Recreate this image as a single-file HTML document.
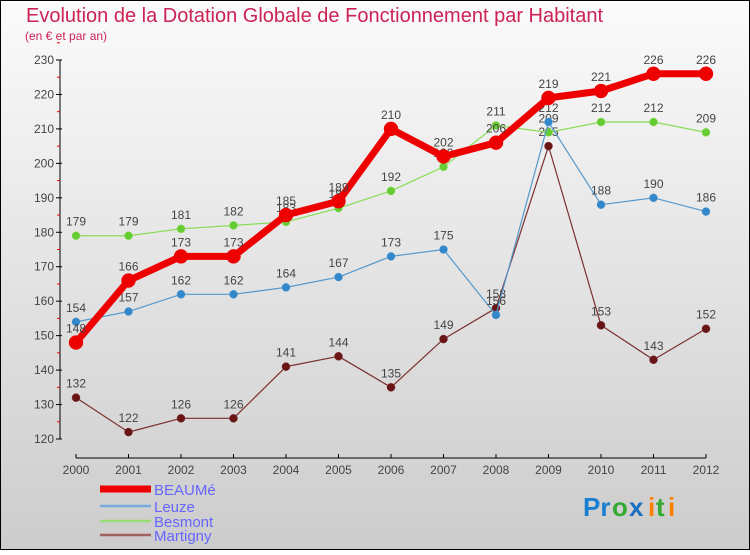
<!DOCTYPE html>
<html><head><meta charset="utf-8"><style>
html,body{margin:0;padding:0}
body{width:750px;height:550px;overflow:hidden;font-family:"Liberation Sans",sans-serif}
</style></head><body>
<svg id="chart" width="750" height="550" xmlns="http://www.w3.org/2000/svg" font-family="Liberation Sans, sans-serif">
<defs><linearGradient id="bg" x1="0" y1="0" x2="0" y2="1"><stop offset="0" stop-color="#fbfbfb"/><stop offset="1" stop-color="#cccccc"/></linearGradient></defs>
<rect x="0.5" y="0.5" width="749" height="549" fill="url(#bg)" stroke="#000"/>
<text x="26" y="22" font-size="20" fill="#cc2255">Evolution de la Dotation Globale de Fonctionnement par Habitant</text>
<text x="25" y="40" font-size="12" fill="#cc2255">(en € et par an)</text>
<g id="axes"></g><g id="series"></g><g id="legend"></g>
<g font-size="26" font-weight="bold">
<text x="583" y="516" fill="#1a7fd0">Pr</text><text x="612" y="516" fill="#33aa33">o</text><text x="629" y="516" fill="#1a6fc0">x</text><text x="648" y="516" fill="#ff7f00">i</text><text x="656" y="516" fill="#33aa33">t</text><text x="668" y="516" fill="#ff7f00">i</text>
</g>
</svg>
<script>
const years=[2000,2001,2002,2003,2004,2005,2006,2007,2008,2009,2010,2011,2012];
const beaume=[148,166,173,173,185,189,210,202,206,219,221,226,226];
const leuze=[154,157,162,162,164,167,173,175,156,212,188,190,186];
const besmont=[179,179,181,182,183,187,192,199,211,209,212,212,209];
const martigny=[132,122,126,126,141,144,135,149,158,205,153,143,152];
const yTicks=[120,130,140,150,160,170,180,190,200,210,220,230];
const NS="http://www.w3.org/2000/svg";
const X=i=>76+i*52.5;
const Y=v=>439-(v-120)*(379/110);
function mk(tag,attrs,parent){const e=document.createElementNS(NS,tag);for(const k in attrs)e.setAttribute(k,attrs[k]);parent.appendChild(e);return e;}
const axes=document.getElementById('axes');
let ya=mk('line',{x1:60,y1:Y(230),x2:60,y2:Y(120),stroke:'#000','stroke-width':1},axes);


yTicks.forEach(v=>{
 mk('line',{x1:56,x2:62,y1:Y(v),y2:Y(v),stroke:'#000'},axes);
 mk('line',{x1:57,x2:60,y1:Y(v+5),y2:Y(v+5),stroke:'#e00'},axes);
 const t=mk('text',{x:54,y:Y(v)+4,'text-anchor':'end','font-size':12,fill:'#444'},axes);t.textContent=v;
 
 
});
let xa=mk('line',{x1:X(0),y1:458,x2:X(12),y2:458,stroke:'#000'},axes);


years.forEach((yr,i)=>{
 mk('line',{x1:X(i),x2:X(i),y1:454,y2:458,stroke:'#000'},axes);
 const t=mk('text',{x:X(i),y:474,'text-anchor':'middle','font-size':12,fill:'#444'},axes);t.textContent=yr;
 
 
});
const ser=document.getElementById('series');
function draw(name,data,color,w,r,dot){
 const g=mk('g',{},ser);
 
 
 mk('polyline',{points:data.map((v,i)=>X(i)+','+Y(v)).join(' '),fill:'none',stroke:color,'stroke-width':w,'stroke-linejoin':'round'},g);
 data.forEach((v,i)=>{
  const c=mk('circle',{cx:X(i),cy:Y(v),r:r,fill:dot,stroke:color,'stroke-width':0.5},g);
  
  
  const t=mk('text',{x:X(i),y:Y(v)-10,'text-anchor':'middle','font-size':12,fill:'#444'},g);t.textContent=v;
  
  
 });
}
draw('martigny',martigny,'#7a3030',1.2,4,'#6a1515');
draw('besmont',besmont,'#88dd55',1.2,4,'#66cc33');
draw('leuze',leuze,'#5599cc',1.2,4,'#3388cc');
draw('beaume',beaume,'#ee0000',7,7,'#ee0000');
const lg=document.getElementById('legend');
const items=[['BEAUMé','#ee0000',7],['Leuze','#77aadd',2.5],['Besmont','#99dd77',2.5],['Martigny','#a06060',2.5]];
items.forEach((it,i)=>{
 const y=519+i*14.5-(i==0?0:0);
 const g=mk('g',{},lg);
 
 
 mk('line',{x1:100,x2:151,y1:[519,536,551,565][i]-30+ (i==0?0:0),y2:[519,536,551,565][i]-30,stroke:it[1],'stroke-width':it[2]},g);
 const t=mk('text',{x:154,y:[519,536,551,565][i]-24,'font-size':15,fill:'#6666ff'},g);t.textContent=it[0];
});
</script>
</body></html>
